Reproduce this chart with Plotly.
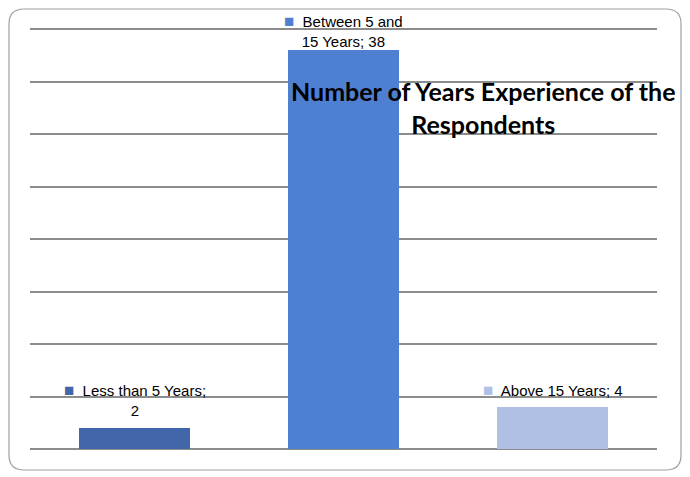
import plotly.graph_objects as go

categories = ["Less than 5 Years", "Between 5 and 15 Years", "Above 15 Years"]
values = [2, 38, 4]
colors = ["#4167AA", "#4F7FD0", "#B0C0E4"]
label_lines = [["Less than 5 Years;", "2"], ["Between 5 and", "15 Years; 38"], ["Above 15 Years; 4"]]
title_text = "Number of Years Experience of the<br>Respondents"

lbl_font = "Liberation Sans Narrow, Arial Narrow, Liberation Sans, Arial"
label_shift = [7, -2, 5]

fig = go.Figure()
fig.add_trace(go.Bar(
    x=categories, y=values, marker=dict(color=colors, line=dict(width=0)),
    width=0.53, hoverinfo="skip", showlegend=False,
))

annotations = []
for cat, v, c, lines, sh in zip(categories, values, colors, label_lines, label_shift):
    first = f"<span style='color:{c};font-size:17px'>■</span>  {lines[0]}"
    txt = "<br>".join([first] + lines[1:])
    annotations.append(dict(
        x=cat, y=v, xref="x", yref="y", text=txt, showarrow=False,
        yanchor="bottom", yshift=sh, align="center",
        font=dict(family=lbl_font, size=15, color="#000000"),
    ))

annotations.append(dict(
    x=0.723, y=0.810, xref="paper", yref="paper", text=f"<b>{title_text}</b>",
    showarrow=False, xanchor="center", yanchor="middle", align="center",
    font=dict(family="Lato, Open Sans, sans-serif", size=25, color="#000000"),
))

# rounded frame
x0, x1, y0, y1 = -0.0335, 1.0383, -0.0498, 1.0427
rx, ry = 0.024, 0.0355
path = (f"M {x0+rx},{y0} L {x1-rx},{y0} Q {x1},{y0} {x1},{y0+ry} "
        f"L {x1},{y1-ry} Q {x1},{y1} {x1-rx},{y1} L {x0+rx},{y1} "
        f"Q {x0},{y1} {x0},{y1-ry} L {x0},{y0+ry} Q {x0},{y0} {x0+rx},{y0} Z")

fig.update_layout(
    width=682, height=469,
    margin=dict(l=22, r=33, t=19, b=28),
    paper_bgcolor="white", plot_bgcolor="white",
    xaxis=dict(showticklabels=False, showgrid=False, zeroline=False, showline=False, ticks=""),
    yaxis=dict(range=[0, 40.2], tickvals=[0, 5, 10, 15, 20, 25, 30, 35, 40], showticklabels=False,
               showgrid=True, gridcolor="#8C8C8C", gridwidth=1.5, zeroline=True,
               zerolinecolor="#8C8C8C", zerolinewidth=1.5, showline=False, ticks=""),
    annotations=annotations,
    shapes=[dict(type="path", path=path, xref="paper", yref="paper",
                 line=dict(color="#A0A0A0", width=1.2), layer="below")],
    bargap=0,
)

fig.write_html("out.html")
